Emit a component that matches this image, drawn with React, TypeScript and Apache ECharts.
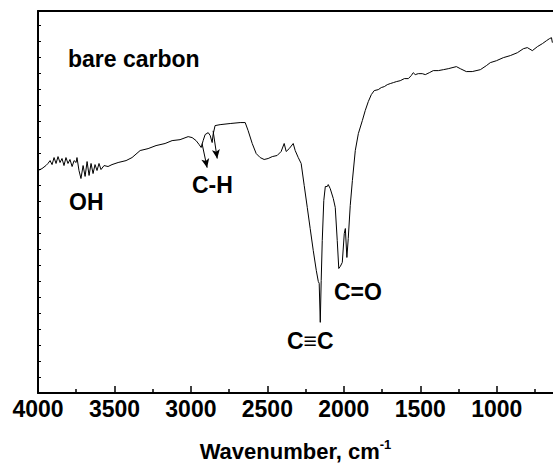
import React, { useEffect, useRef } from "react";
import * as echarts from "echarts";

const wavenumber = [
  4000, 3974, 3948, 3935, 3921, 3908, 3895, 3882, 3869, 3856, 3843, 3830, 3817, 3804, 3791, 3777,
  3764, 3751, 3745, 3732, 3719, 3705, 3692, 3679, 3666, 3653, 3640, 3627, 3614, 3601, 3588, 3568,
  3542, 3516, 3476, 3424, 3385, 3332, 3280, 3228, 3169, 3123, 3071, 3018, 2992, 2966, 2946,
  2933, 2920, 2907, 2887, 2874, 2861, 2855, 2842, 2809, 2743, 2678, 2645, 2626, 2599, 2573, 2547,
  2521, 2495, 2468, 2436, 2410, 2390, 2377, 2357, 2331, 2318, 2298, 2279, 2259, 2239, 2220, 2200,
  2180, 2167, 2161, 2154, 2148, 2141, 2131, 2121, 2108, 2102, 2089, 2069, 2056, 2043, 2033, 2023,
  2010, 1997, 1990, 1980, 1971, 1958, 1944, 1925, 1905, 1879, 1860, 1840, 1820, 1801, 1775, 1755,
  1735, 1716, 1696, 1676, 1657, 1631, 1604, 1578, 1559, 1546, 1533, 1513, 1487, 1467, 1441, 1415,
  1382, 1349, 1317, 1264, 1238, 1199, 1160, 1107, 1068, 1042, 1002, 957, 911, 865, 826, 800,
  767, 734, 701, 675, 655, 642, 636,
];

const signal = [
  13.92, 14.04, 14.23, 14.36, 14.54, 14.29, 14.73, 14.36, 14.79, 14.42, 14.67, 14.23, 14.73, 14.36, 14.61, 14.17,
  14.54, 14.42, 14.73, 13.92, 13.42, 14.23, 13.55, 14.48, 13.61, 14.36, 13.73, 14.29, 13.92, 14.36, 13.98, 14.23,
  14.17, 14.29, 14.42, 14.54, 14.73, 15.17, 15.29, 15.48, 15.61, 15.79, 15.85, 16.04, 15.98, 15.79, 15.54,
  15.36, 15.79, 16.17, 16.29, 16.11, 15.67, 16.17, 16.73, 16.79, 16.86, 16.92, 16.92, 16.42, 15.61, 14.98, 14.73,
  14.61, 14.67, 14.79, 14.86, 15.11, 15.61, 15.11, 15.29, 15.61, 15.17, 14.73, 14.36, 12.98, 11.61, 10.29, 8.92,
  7.67, 6.98, 6.86, 4.42, 7.04, 9.54, 12.04, 12.92, 12.92, 13.04, 12.79, 12.17, 11.61, 9.54, 7.79, 7.92,
  8.17, 9.98, 10.29, 8.48, 9.67, 11.73, 13.29, 15.17, 16.23, 17.04, 17.67, 18.23, 18.67, 18.92, 18.98, 19.11,
  19.17, 19.29, 19.36, 19.42, 19.48, 19.54, 19.67, 19.67, 19.86, 20.04, 19.92, 19.98, 19.98, 19.92, 20.04, 20.17,
  20.17, 20.23, 20.29, 20.42, 20.29, 20.11, 20.11, 20.23, 20.48, 20.67, 20.79, 20.98, 21.11, 21.29, 21.54, 21.61,
  21.42, 21.67, 21.86, 22.04, 22.17, 22.23, 21.92,
];

const majorTicks = [1000, 1500, 2000, 2500, 3000, 3500, 4000];
const minorTicks = [750, 1250, 1750, 2250, 2750, 3250, 3750];

// C-H arrows: [fromWavenumber, fromValue, toWavenumber, toValue]
const chArrows = [
  [2927, 15.6, 2894, 14.1],
  [2855, 16.4, 2828, 14.67],
];

const X_MIN = 632;
const X_MAX = 4000;
const Y_MAX = 23.9;
const FONT = "Liberation Sans, Arial, Helvetica, sans-serif";

export default function App() {
  const ref = useRef<HTMLDivElement>(null);
  useEffect(() => {
    if (!ref.current) return;
    const chart = echarts.init(ref.current, undefined, { renderer: "svg" });
    const data = wavenumber.map((w, i) => [w, signal[i]]);
    const baseX = {
      type: "value",
      min: X_MIN,
      max: X_MAX,
      inverse: true,
      splitLine: { show: false },
    };
    chart.setOption({
      animation: false,
      backgroundColor: "#ffffff",
      grid: { left: 38, right: 0, top: 11, bottom: 76 },
      xAxis: [
        {
          ...baseX,
          position: "bottom",
          axisLine: { show: true, onZero: false, lineStyle: { color: "#000", width: 2 } },
          axisTick: {
            show: true,
            inside: true,
            length: 7,
            customValues: majorTicks,
            lineStyle: { color: "#000", width: 1.5 },
          },
          axisLabel: {
            show: true,
            customValues: majorTicks,
            formatter: (v: number) => String(v),
            margin: 4,
            color: "#000",
            fontSize: 23,
            fontWeight: "bold",
            fontFamily: FONT,
          },
          name: "{a|Wavenumber, cm}{s|-1}",
          nameLocation: "middle",
          nameGap: 45,
          nameTextStyle: {
            rich: {
              a: { fontSize: 22, fontWeight: "bold", fontFamily: FONT, color: "#000", lineHeight: 26 },
              s: {
                fontSize: 13,
                fontWeight: "bold",
                fontFamily: FONT,
                color: "#000",
                verticalAlign: "top",
                lineHeight: 26,
                padding: [0, 0, 10, 0],
              },
            },
          },
        },
        {
          ...baseX,
          position: "bottom",
          axisLine: { show: false },
          axisTick: {
            show: true,
            inside: true,
            length: 4,
            customValues: minorTicks,
            lineStyle: { color: "#000", width: 1.5 },
          },
          axisLabel: { show: false },
        },
        {
          ...baseX,
          position: "top",
          axisLine: { show: true, onZero: false, lineStyle: { color: "#000", width: 2 } },
          axisTick: { show: false },
          axisLabel: { show: false },
        },
      ],
      yAxis: {
        type: "value",
        min: 0,
        max: Y_MAX,
        interval: 1,
        position: "left",
        splitLine: { show: false },
        axisLine: { show: true, onZero: false, lineStyle: { color: "#000", width: 2 } },
        axisTick: { show: true, inside: true, length: 3, lineStyle: { color: "#000", width: 1 } },
        axisLabel: { show: false },
      },
      series: [
        {
          type: "line",
          xAxisIndex: 0,
          data,
          showSymbol: false,
          symbol: "none",
          lineStyle: { color: "#000", width: 1 },
          markLine: {
            silent: true,
            symbol: ["none", "arrow"],
            symbolSize: [6, 9],
            label: { show: false },
            lineStyle: { color: "#000", width: 1, type: "solid" },
            data: chArrows.map((a) => [
              { coord: [a[0], a[1]] },
              { coord: [a[2], a[3]] },
            ]),
          },
        },
      ],
      graphic: [
        {
          type: "text",
          left: 68,
          top: 47,
          style: { text: "bare carbon", font: `bold 23px ${FONT}`, fill: "#000" },
        },
        {
          type: "text",
          left: 69,
          top: 190,
          style: { text: "OH", font: `bold 23px ${FONT}`, fill: "#000" },
        },
        {
          type: "text",
          left: 192,
          top: 173,
          style: { text: "C-H", font: `bold 23px ${FONT}`, fill: "#000" },
        },
        {
          type: "text",
          left: 287,
          top: 329,
          style: { text: "C≡C", font: `bold 23px ${FONT}`, fill: "#000" },
        },
        {
          type: "text",
          left: 334,
          top: 280,
          style: { text: "C=O", font: `bold 23px ${FONT}`, fill: "#000" },
        },
      ],
    });
    return () => chart.dispose();
  }, []);
  return (
    <div
      ref={ref}
      style={{ position: "fixed", left: 0, top: 0, width: 553, height: 469, background: "#fff" }}
    />
  );
}
